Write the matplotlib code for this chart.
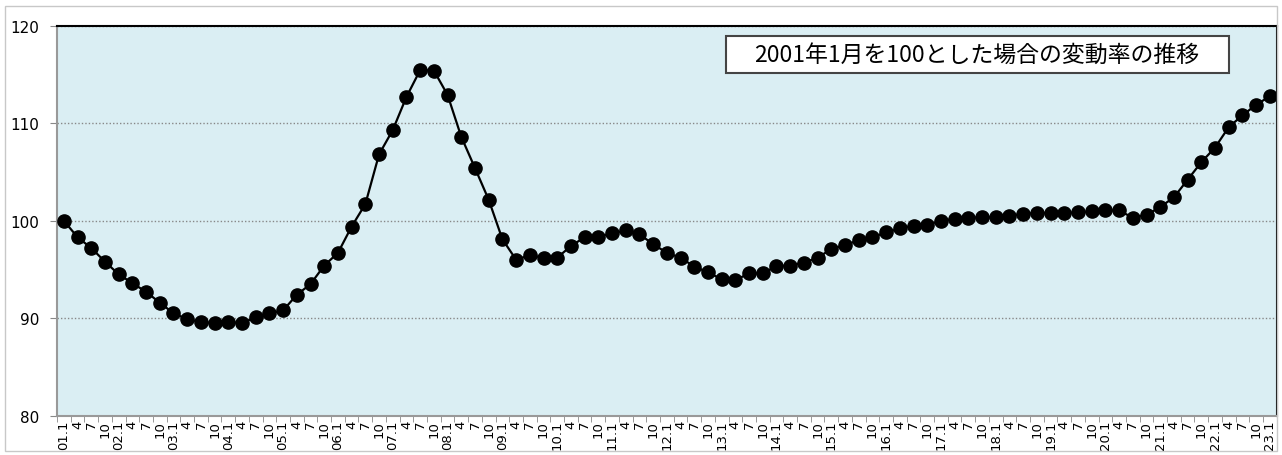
import numpy as np
import matplotlib.pyplot as plt
from matplotlib.patches import Rectangle

plt.rcParams['font.family'] = ['DejaVu Sans', 'Noto Sans CJK JP']

# quarterly labels 01.1 ... 23.1
years = ["%02d" % y for y in range(1, 24)]
labels = []
for y in years:
    for q in ["1", "4", "7", "10"]:
        if y == "23" and q != "1":
            break
        labels.append(y + "." + q if q == "1" else q)

values = [100.0, 98.3, 97.2, 95.8, 94.5, 93.6, 92.7, 91.6, 90.5, 89.9,
          89.6, 89.5, 89.6, 89.5, 90.1, 90.5, 90.8, 92.4, 93.5, 95.4,
          96.7, 99.4, 101.7, 106.8, 109.3, 112.7, 115.45, 115.4, 112.9, 108.6,
          105.4, 102.15, 98.1, 96.0, 96.45, 96.2, 96.2, 97.4, 98.3, 98.35,
          98.7, 99.0, 98.6, 97.6, 96.7, 96.2, 95.3, 94.7, 94.0, 93.9,
          94.6, 94.6, 95.35, 95.4, 95.7, 96.2, 97.1, 97.5, 98.0, 98.3,
          98.8, 99.2, 99.5, 99.6, 99.97, 100.2, 100.3, 100.35, 100.35, 100.5,
          100.7, 100.8, 100.8, 100.8, 100.85, 100.95, 101.05, 101.05, 100.3, 100.6,
          101.4, 102.4, 104.2, 106.0, 107.5, 109.6, 110.8, 111.9, 112.75]

title = "2001年1月を100とした場合の変動率の推移"

fig = plt.figure(figsize=(12.82, 4.56), dpi=100)
fig.patches.append(Rectangle((5/1282, 1-452/456), 1272/1282, 445/456,
                             transform=fig.transFigure, fill=False,
                             edgecolor="#c8c8c8", lw=1))
ax = fig.add_axes([57/1282, 1-416.7/456, (1276.7-57)/1282, (416.7-26.7)/456])
ax.set_facecolor("#DAEEF3")

x = np.arange(len(values))
ax.plot(x, values, "-", color="black", lw=1.6, marker="o", ms=9.5,
        markerfacecolor="black", markeredgecolor="black", zorder=3)

ax.set_xlim(-0.5, len(values) - 0.5)
ax.set_ylim(80, 120)
ax.set_yticks([80, 90, 100, 110, 120])
ax.grid(axis="y", color="#888888", ls=(0, (1, 1.5)), lw=1)

ax.set_xticks(x)
ax.set_xticklabels(labels, rotation=90, fontsize=9.5)
ax.set_xticks(np.arange(len(values) + 1) - 0.5, minor=True)
ax.tick_params(axis="x", which="major", length=0, pad=3)
ax.tick_params(axis="x", which="minor", length=4, color="#888888")
ax.tick_params(axis="y", length=5, color="#888888", labelsize=11, pad=8)

for s in ["left", "bottom"]:
    ax.spines[s].set_color("#999999")
    ax.spines[s].set_linewidth(1.5)
for s in ["top", "right"]:
    ax.spines[s].set_color("black")
    ax.spines[s].set_linewidth(1.5)

# title box
ax.add_patch(Rectangle((0.5485, 0.8787), 0.4124, 0.0949, transform=ax.transAxes,
                       facecolor="white", edgecolor="#444444", lw=1.5, zorder=5))
ax.text(0.7539, 0.926, title, transform=ax.transAxes, ha="center", va="center",
        fontsize=16.5, family=['Noto Sans CJK JP', 'DejaVu Sans'], zorder=6)

fig.savefig("out.png", dpi=100)
